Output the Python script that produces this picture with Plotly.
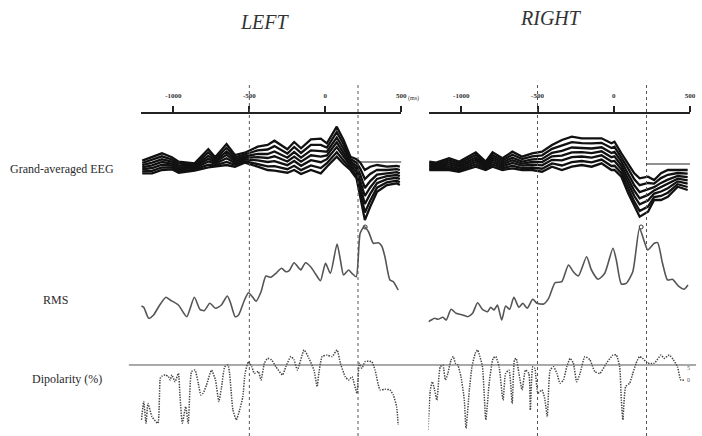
import plotly.graph_objects as go

W, H = 702, 436

# ---------------- data ----------------
EVENT_MS = [-500, 215]          # dotted latency markers
TICK_MS = [-1000, -500, 0, 500]
TICK_TEXT = ["-1000", "-500", "0", "500"]

# Grand-averaged EEG, LEFT (µV), channels sampled at shared latencies
eeg_left_t = [-1205, -1140, -1075, -1010, -965, -860, -770, -725, -650, -595, -530,
              -445, -380, -335, -250, -205, -160, -95, -30, 10, 75, 120, 165, 205,
              230, 260, 295, 340, 405, 470, 490]
eeg_left_ch1 = [0.13, 0.53, 0.87, 0.47, 0.03, -0.13, 1.27, 0.47, 1.8, 0.7, 0.93, 1.53, 1.7,
                2.13, 1.27, 2.0, 1.37, 2.27, 2.33, 1.87, 3.53, 2.2, 0.53, 0.27, -0.07, -0.8,
                -0.47, -0.3, -0.47, -0.4, -0.47]
eeg_left_ch2 = [-0.10, 0.23, 0.57, 0.25, -0.17, -0.26, 0.95, 0.30, 1.42, 0.49, 0.75, 1.17, 1.25,
                1.59, 0.85, 1.50, 0.91, 1.72, 1.71, 1.45, 2.99, 1.77, 0.29, -0.07, -0.68, -1.70,
                -1.19, -0.78, -0.80, -0.71, -0.80]
eeg_left_ch3 = [-0.32, -0.07, 0.27, 0.04, -0.37, -0.40, 0.62, 0.13, 1.04, 0.28, 0.57, 0.81, 0.80,
                1.05, 0.43, 0.99, 0.44, 1.16, 1.08, 1.03, 2.45, 1.34, 0.05, -0.41, -1.29, -2.60,
                -1.91, -1.26, -1.13, -1.02, -1.13]
eeg_left_ch4 = [-0.53, -0.33, 0.00, -0.15, -0.54, -0.51, 0.33, -0.02, 0.71, 0.09, 0.41, 0.49, 0.40,
                0.57, 0.05, 0.54, 0.03, 0.67, 0.53, 0.65, 1.97, 0.95, -0.16, -0.72, -1.84, -3.40,
                -2.55, -1.69, -1.42, -1.30, -1.42]
eeg_left_ch5 = [-0.73, -0.60, -0.27, -0.35, -0.72, -0.63, 0.05, -0.17, 0.37, -0.10, 0.25, 0.17, 0.00,
                0.09, -0.32, 0.10, -0.38, 0.18, -0.02, 0.28, 1.49, 0.57, -0.37, -1.02, -2.38, -4.20,
                -3.19, -2.12, -1.71, -1.58, -1.71]
eeg_left_ch6 = [-0.94, -0.88, -0.55, -0.55, -0.91, -0.76, -0.26, -0.33, 0.01, -0.29, 0.08, -0.17, -0.43,
                -0.42, -0.72, -0.38, -0.81, -0.34, -0.61, -0.12, 0.98, 0.16, -0.60, -1.35, -2.96, -5.05,
                -3.87, -2.57, -2.03, -1.87, -2.03]
eeg_left_ch7 = [-1.13, -1.13, -0.8, -0.73, -1.07, -0.87, -0.53, -0.47, -0.3, -0.47, -0.07, -0.47, -0.8,
                -0.87, -1.07, -0.8, -1.2, -0.8, -1.13, -0.47, 0.53, -0.2, -0.8, -1.63, -3.47, -5.8,
                -4.47, -2.97, -2.3, -2.13, -2.3]

# Grand-averaged EEG, RIGHT (µV)
eeg_right_t = [-1210, -1165, -1080, -1015, -905, -840, -795, -730, -665, -600, -535, -470,
               -405, -340, -275, -210, -145, -80, -15, 5, 50, 95, 135, 170, 225, 265, 310,
               355, 420, 485]
eeg_right_ch1 = [0.23, 0.13, 0.57, 0.23, 1.17, 0.23, 1.17, 0.57, 1.23, 0.73, 1.07, 1.23, 1.9, 2.4,
                 2.73, 2.57, 2.57, 2.57, 2.07, 2.23, 1.07, 0.07, -0.93, -1.43, -1.27, -1.6, -0.93,
                 -0.6, -0.6, -0.6]
eeg_right_ch2 = [0.08, 0.00, 0.36, 0.05, 0.91, 0.08, 0.91, 0.36, 0.93, 0.49, 0.77, 0.87, 1.51, 1.86,
                 2.19, 2.09, 2.06, 2.12, 1.59, 1.72, 0.65, -0.47, -1.53, -2.12, -1.90, -1.96, -1.41,
                 -1.08, -0.90, -0.96]
eeg_right_ch3 = [-0.07, -0.13, 0.15, -0.13, 0.65, -0.07, 0.65, 0.15, 0.63, 0.25, 0.47, 0.51, 1.12, 1.32,
                 1.65, 1.61, 1.55, 1.67, 1.11, 1.21, 0.23, -1.01, -2.13, -2.81, -2.53, -2.32, -1.89,
                 -1.56, -1.20, -1.32]
eeg_right_ch4 = [-0.20, -0.25, -0.04, -0.29, 0.42, -0.20, 0.42, -0.04, 0.37, 0.04, 0.20, 0.19, 0.77, 0.84,
                 1.17, 1.18, 1.09, 1.27, 0.68, 0.76, -0.15, -1.49, -2.67, -3.43, -3.09, -2.64, -2.32,
                 -1.99, -1.47, -1.64]
eeg_right_ch5 = [-0.33, -0.37, -0.23, -0.45, 0.19, -0.33, 0.19, -0.23, 0.10, -0.17, -0.07, -0.13, 0.42, 0.36,
                 0.69, 0.75, 0.64, 0.87, 0.25, 0.31, -0.52, -1.97, -3.20, -4.04, -3.65, -2.96, -2.75,
                 -2.42, -1.74, -1.96]
eeg_right_ch6 = [-0.48, -0.49, -0.42, -0.62, -0.05, -0.48, -0.05, -0.42, -0.18, -0.40, -0.35, -0.47, 0.06, -0.15,
                 0.18, 0.30, 0.16, 0.44, -0.20, -0.18, -0.92, -2.48, -3.77, -4.69, -4.25, -3.30, -3.20,
                 -2.87, -2.02, -2.30]
eeg_right_ch7 = [-0.6, -0.6, -0.6, -0.77, -0.27, -0.6, -0.27, -0.6, -0.43, -0.6, -0.6, -0.77, -0.27, -0.6,
                 -0.27, -0.1, -0.27, 0.07, -0.6, -0.6, -1.27, -2.93, -4.27, -5.27, -4.77, -3.6, -3.6,
                 -3.27, -2.27, -2.6]

# peak markers (ms, µV)
peak_left = (262, -6.5)
peak_right = (180, -6.3)

# RMS (µV)
rms_left_t = [-1210, -1195, -1162, -1130, -1097, -1049, -1021, -967, -912, -862, -825, -797, -760,
              -723, -684, -645, -623, -593, -571, -532, -506, -477, -456, -423, -391, -358, -325,
              -288, -260, -238, -206, -173, -162, -130, -97, -64, -32, 1, 33, 77, 99, 120, 153,
              175, 203, 229, 255, 284, 316, 349, 371, 392, 425, 447, 479]
rms_left_v = [2.40, 2.27, 1.17, 1.50, 2.33, 3.27, 3.00, 2.50, 1.33, 3.27, 2.07, 1.93, 2.67,
              2.17, 2.50, 3.40, 2.67, 1.33, 1.50, 3.00, 3.73, 3.27, 2.87, 3.83, 5.40, 5.27, 5.67,
              6.17, 5.83, 5.93, 6.73, 6.17, 6.00, 6.73, 6.33, 5.60, 4.93, 6.67, 5.67, 8.60, 7.00,
              5.50, 6.00, 5.67, 5.33, 9.67, 10.33, 9.83, 8.67, 8.73, 8.40, 7.33, 5.00, 4.83, 4.00]
rms_right_t = [-1215, -1197, -1175, -1153, -1121, -1099, -1067, -1034, -991, -958, -926, -893, -861,
               -828, -807, -785, -763, -735, -709, -683, -655, -622, -596, -568, -531, -503, -460,
               -427, -384, -341, -297, -265, -232, -178, -146, -102, -59, -5, 17, 50, 82, 125, 169,
               201, 223, 266, 288, 320, 353, 385, 429, 461, 487]
rms_right_v = [0.83, 1.00, 1.17, 1.07, 1.27, 1.00, 2.07, 1.67, 1.50, 1.33, 1.67, 2.73, 2.07,
               1.83, 2.27, 2.00, 2.50, 1.00, 2.40, 2.07, 3.27, 2.27, 2.67, 2.17, 3.07, 2.67, 2.60,
               3.17, 4.73, 4.83, 6.50, 5.83, 5.40, 7.33, 6.00, 5.07, 5.67, 8.17, 7.00, 4.60, 4.67,
               5.83, 10.17, 8.83, 8.00, 8.67, 8.73, 6.67, 5.00, 5.07, 4.33, 4.07, 4.50]

# Dipolarity (%)
DIP_REF = 95
dip_left_t = [-1210, -1195, -1180, -1167, -1141, -1102, -1086, -1075, -1054, -1032, -1021, -1010,
              -989, -967, -956, -941, -919, -902, -880, -858, -836, -819, -804, -782, -749, -723,
              -701, -684, -662, -641, -630, -608, -586, -564, -543, -528, -506, -484, -467, -441,
              -423, -401, -380, -354, -325, -282, -260, -227, -206, -184, -140, -108, -75, -54,
              -43, -21, 12, 44, 77, 99, 131, 153, 175, 208, 223, 240, 262, 305, 327, 360, 392,
              425, 447, 469, 479]
dip_left_v = [76.7, 82.8, 75.6, 82.2, 77.8, 75.6, 90.6, 91.3, 91.7, 91.1, 90.0, 91.7, 89.4, 92.2,
              84.4, 75.6, 81.1, 75.6, 92.8, 93.3, 88.9, 85.0, 85.6, 88.3, 93.3, 90.0, 82.8, 87.2,
              94.4, 95.0, 92.2, 80.0, 76.7, 80.0, 84.4, 92.2, 96.1, 94.4, 92.2, 92.8, 90.0, 95.6,
              97.2, 96.7, 94.4, 91.7, 94.4, 97.8, 96.7, 93.3, 100.0, 97.2, 93.3, 87.8, 92.2, 97.8,
              98.3, 97.8, 100.0, 95.6, 91.1, 90.0, 91.1, 85.6, 95.6, 93.9, 96.1, 96.1, 93.3, 86.7,
              86.9, 86.7, 85.0, 81.1, 75.0]
dip_right_t = [-1218, -1203, -1190, -1175, -1160, -1138, -1121, -1104, -1088, -1067, -1052, -1039,
               -1023, -1002, -980, -969, -947, -930, -908, -893, -878, -861, -839, -817, -791, -774,
               -752, -726, -709, -687, -666, -651, -640, -622, -601, -579, -557, -547, -531, -518,
               -497, -471, -453, -436, -417, -395, -373, -352, -330, -308, -286, -265, -243, -221,
               -189, -156, -124, -91, -48, -5, 17, 39, 50, 60, 78, 104, 125, 147, 169, 190, 223,
               266, 310, 331, 364, 392, 418, 440, 461]
dip_right_v = [73.3, 86.7, 89.4, 86.7, 83.3, 94.4, 95.0, 90.0, 92.2, 96.7, 97.8, 95.6, 95.0, 91.1,
               83.3, 73.9, 86.7, 94.4, 98.9, 100.0, 97.8, 94.4, 76.7, 88.9, 97.2, 97.8, 94.4, 83.3,
               92.2, 93.3, 82.2, 96.7, 97.2, 92.2, 86.7, 93.3, 92.2, 80.0, 94.4, 93.9, 85.6, 86.7,
               83.9, 77.8, 93.3, 94.4, 92.2, 88.9, 90.0, 94.4, 97.2, 95.6, 89.4, 92.2, 97.8, 96.7,
               92.8, 92.2, 95.6, 98.3, 98.3, 94.4, 83.3, 76.7, 87.8, 88.9, 92.2, 95.6, 97.8, 97.2,
               95.6, 95.6, 98.3, 97.2, 98.3, 96.7, 94.4, 90.0, 90.0]

# ---------------- layout helpers ----------------
def px(x):
    return x / W


def py(y):
    return 1 - y / H


SERIF = "Liberation Serif, Times New Roman, serif"
INK = "#333333"
T_RANGE = [-1215, 500]

fig = go.Figure()

panels = [
    dict(xa="x", eeg_ax="y", rms_ax="y3", dip_ax="y5",
         eeg_t=eeg_left_t,
         channels=[eeg_left_ch1, eeg_left_ch2, eeg_left_ch3, eeg_left_ch4, eeg_left_ch5,
                   eeg_left_ch6, eeg_left_ch7],
         peak=peak_left, rms_t=rms_left_t, rms_v=rms_left_v,
         dip_t=dip_left_t, dip_v=dip_left_v),
    dict(xa="x2", eeg_ax="y2", rms_ax="y4", dip_ax="y6",
         eeg_t=eeg_right_t,
         channels=[eeg_right_ch1, eeg_right_ch2, eeg_right_ch3, eeg_right_ch4, eeg_right_ch5,
                   eeg_right_ch6, eeg_right_ch7],
         peak=peak_right, rms_t=rms_right_t, rms_v=rms_right_v,
         dip_t=dip_right_t, dip_v=dip_right_v),
]

for p in panels:
    for ch in p["channels"]:
        fig.add_trace(go.Scatter(x=p["eeg_t"], y=ch, xaxis=p["xa"], yaxis=p["eeg_ax"],
                                 mode="lines", line=dict(color="#111", width=2.3),
                                 hoverinfo="skip", showlegend=False))
    fig.add_trace(go.Scatter(x=[p["peak"][0]], y=[p["peak"][1]], xaxis=p["xa"], yaxis=p["eeg_ax"],
                             mode="markers", marker=dict(symbol="circle-open", size=4,
                                                         color="#333", line=dict(width=1)),
                             cliponaxis=False, hoverinfo="skip", showlegend=False))
    fig.add_trace(go.Scatter(x=p["rms_t"], y=p["rms_v"], xaxis=p["xa"], yaxis=p["rms_ax"],
                             mode="lines", line=dict(color="#555", width=1.6,
                                                     shape="spline", smoothing=0.6),
                             hoverinfo="skip", showlegend=False))
    fig.add_trace(go.Scatter(x=p["dip_t"], y=p["dip_v"], xaxis=p["xa"], yaxis=p["dip_ax"],
                             mode="lines", line=dict(color="#444", width=1.5, dash="1.4px,1.2px",
                                                     shape="spline", smoothing=0.5),
                             hoverinfo="skip", showlegend=False))

# ---------------- axes ----------------
x_axis_common = dict(range=T_RANGE, side="top", anchor="free", position=py(113),
                     showline=True, linecolor="#222", linewidth=2,
                     ticks="outside", ticklen=6, tickwidth=1.5, tickcolor="#222",
                     tickvals=TICK_MS, ticktext=TICK_TEXT, ticklabelstandoff=5,
                     tickfont=dict(family=SERIF, size=7, color=INK, weight="bold"),
                     showgrid=False, zeroline=False, fixedrange=True)

fig.update_layout(
    width=W, height=H,
    margin=dict(l=0, r=0, t=0, b=0),
    paper_bgcolor="white", plot_bgcolor="rgba(0,0,0,0)",
    xaxis=dict(domain=[px(141.9), px(404.8)], **x_axis_common),
    xaxis2=dict(domain=[px(432.2), px(695.9)], **x_axis_common),
    yaxis=dict(domain=[py(230), py(120)], range=[-6.8, 4.2], anchor="x", visible=False),
    yaxis2=dict(domain=[py(230), py(120)], range=[-6.6, 4.4], anchor="x2", visible=False),
    yaxis3=dict(domain=[py(330), py(220)], range=[0, 11], anchor="x", visible=False),
    yaxis4=dict(domain=[py(330), py(220)], range=[0, 11], anchor="x2", visible=False),
    yaxis5=dict(domain=[0, py(340)], range=[71.33, 103.33], anchor="x", visible=False),
    yaxis6=dict(domain=[0, py(340)], range=[71.33, 103.33], anchor="x2", visible=False),
)

shapes = []
for xa in ("x", "x2"):
    for t in EVENT_MS:
        shapes.append(dict(type="line", xref=xa, yref="paper", x0=t, x1=t,
                           y0=0, y1=py(85), line=dict(color="#555", width=1, dash="dot")))
shapes.append(dict(type="line", xref="x", yref="y", x0=EVENT_MS[1], x1=T_RANGE[1],
                   y0=0, y1=0, line=dict(color="#222", width=1)))
shapes.append(dict(type="line", xref="x2", yref="y2", x0=EVENT_MS[1], x1=T_RANGE[1],
                   y0=0, y1=0, line=dict(color="#222", width=1)))
shapes.append(dict(type="line", xref="paper", yref="y5", x0=px(130), x1=1.0,
                   y0=DIP_REF, y1=DIP_REF, line=dict(color="#555", width=1)))
fig.update_layout(shapes=shapes)

annotations = [
    dict(text="<i>LEFT</i>", x=px(267.5), y=py(22), font=dict(family=SERIF, size=20, color="#333")),
    dict(text="<i>RIGHT</i>", x=px(555.5), y=py(18), font=dict(family=SERIF, size=20, color="#333")),
    dict(text="Grand-averaged EEG", x=px(8), y=py(169), xanchor="left",
         font=dict(family=SERIF, size=12, color="#2a2a2a")),
    dict(text="RMS", x=px(41.5), y=py(300), xanchor="left",
         font=dict(family=SERIF, size=12, color="#2a2a2a")),
    dict(text="Dipolarity (%)", x=px(30), y=py(379), xanchor="left",
         font=dict(family=SERIF, size=12, color="#2a2a2a")),
    dict(text="(ms)", x=px(410), y=py(98), xanchor="left",
         font=dict(family=SERIF, size=6, color=INK)),
    dict(text="5", x=px(694), y=py(368), font=dict(family=SERIF, size=6, color="#555")),
    dict(text="0", x=px(694), y=py(380), font=dict(family=SERIF, size=6, color="#555")),
]
for a in annotations:
    a.update(xref="paper", yref="paper", showarrow=False)
    a.setdefault("xanchor", "center")
    a["yanchor"] = "middle"
fig.update_layout(annotations=annotations)

fig.write_html("out.html")
